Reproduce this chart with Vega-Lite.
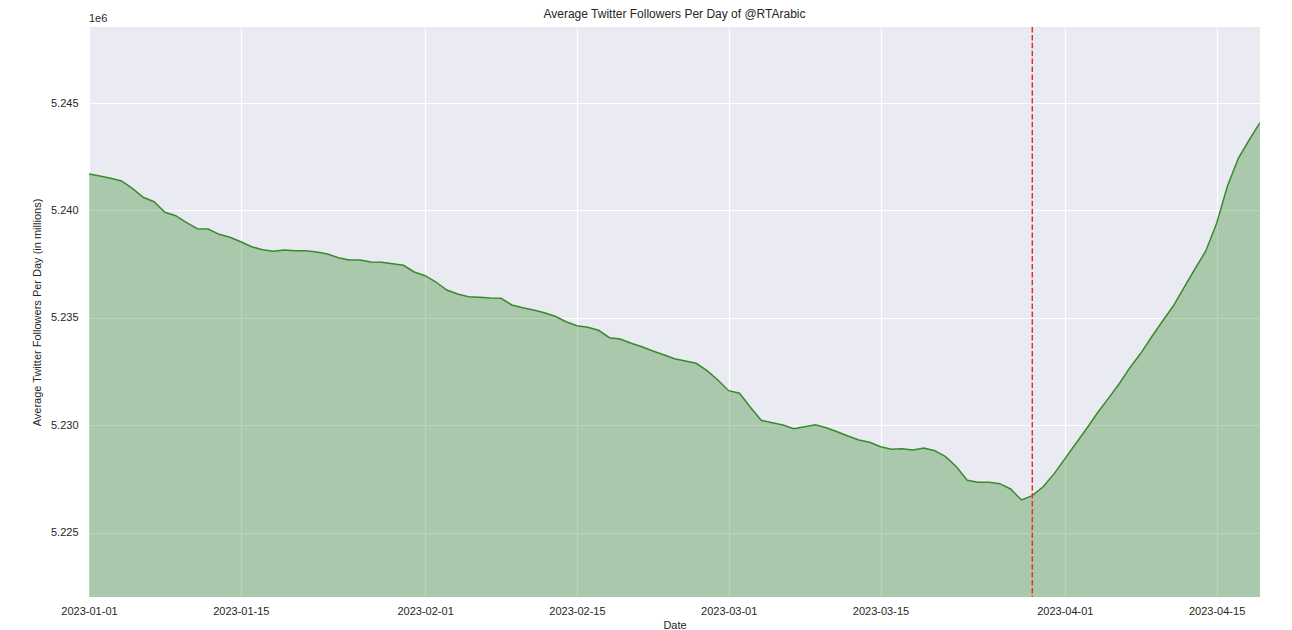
{
  "$schema": "https://vega.github.io/schema/vega-lite/v6.json",
  "width": 1171,
  "height": 570,
  "autosize": "none",
  "padding": {"left": 89, "top": 27, "right": 32, "bottom": 33},
  "background": "white",
  "config": {
    "font": "Liberation Sans",
    "view": {"fill": "#EAEAF2", "stroke": null},
    "axis": {
      "grid": true, "gridColor": "white", "gridWidth": 1.2,
      "domain": false, "ticks": false, "tickSize": 0,
      "labelFont": "Liberation Sans", "labelFontSize": 11, "labelColor": "#262626",
      "titleFont": "Liberation Sans", "titleFontSize": 11, "titleColor": "#262626", "titleFontWeight": "normal"
    }
  },
  "title": {
    "text": "Average Twitter Followers Per Day of @RTArabic",
    "fontSize": 12, "fontWeight": "normal", "color": "#262626",
    "font": "Liberation Sans", "anchor": "middle", "offset": 7, "frame": "group", "dy": 15
  },
  "datasets": {
    "followers": [
      {"date": "2023-01-01", "followers": 5241698},
      {"date": "2023-01-02", "followers": 5241605},
      {"date": "2023-01-03", "followers": 5241497},
      {"date": "2023-01-04", "followers": 5241372},
      {"date": "2023-01-05", "followers": 5241032},
      {"date": "2023-01-06", "followers": 5240614},
      {"date": "2023-01-07", "followers": 5240410},
      {"date": "2023-01-08", "followers": 5239916},
      {"date": "2023-01-09", "followers": 5239759},
      {"date": "2023-01-10", "followers": 5239433},
      {"date": "2023-01-11", "followers": 5239154},
      {"date": "2023-01-12", "followers": 5239140},
      {"date": "2023-01-13", "followers": 5238893},
      {"date": "2023-01-14", "followers": 5238753},
      {"date": "2023-01-15", "followers": 5238549},
      {"date": "2023-01-16", "followers": 5238316},
      {"date": "2023-01-17", "followers": 5238177},
      {"date": "2023-01-18", "followers": 5238102},
      {"date": "2023-01-19", "followers": 5238163},
      {"date": "2023-01-20", "followers": 5238130},
      {"date": "2023-01-21", "followers": 5238130},
      {"date": "2023-01-22", "followers": 5238070},
      {"date": "2023-01-23", "followers": 5237977},
      {"date": "2023-01-24", "followers": 5237805},
      {"date": "2023-01-25", "followers": 5237698},
      {"date": "2023-01-26", "followers": 5237698},
      {"date": "2023-01-27", "followers": 5237605},
      {"date": "2023-01-28", "followers": 5237590},
      {"date": "2023-01-29", "followers": 5237526},
      {"date": "2023-01-30", "followers": 5237451},
      {"date": "2023-01-31", "followers": 5237140},
      {"date": "2023-02-01", "followers": 5236967},
      {"date": "2023-02-02", "followers": 5236674},
      {"date": "2023-02-03", "followers": 5236302},
      {"date": "2023-02-04", "followers": 5236116},
      {"date": "2023-02-05", "followers": 5235991},
      {"date": "2023-02-06", "followers": 5235963},
      {"date": "2023-02-07", "followers": 5235930},
      {"date": "2023-02-08", "followers": 5235916},
      {"date": "2023-02-09", "followers": 5235605},
      {"date": "2023-02-10", "followers": 5235479},
      {"date": "2023-02-11", "followers": 5235372},
      {"date": "2023-02-12", "followers": 5235247},
      {"date": "2023-02-13", "followers": 5235079},
      {"date": "2023-02-14", "followers": 5234828},
      {"date": "2023-02-15", "followers": 5234642},
      {"date": "2023-02-16", "followers": 5234567},
      {"date": "2023-02-17", "followers": 5234428},
      {"date": "2023-02-18", "followers": 5234084},
      {"date": "2023-02-19", "followers": 5234023},
      {"date": "2023-02-20", "followers": 5233823},
      {"date": "2023-02-21", "followers": 5233665},
      {"date": "2023-02-22", "followers": 5233465},
      {"date": "2023-02-23", "followers": 5233293},
      {"date": "2023-02-24", "followers": 5233107},
      {"date": "2023-02-25", "followers": 5233000},
      {"date": "2023-02-26", "followers": 5232893},
      {"date": "2023-02-27", "followers": 5232549},
      {"date": "2023-02-28", "followers": 5232116},
      {"date": "2023-03-01", "followers": 5231619},
      {"date": "2023-03-02", "followers": 5231498},
      {"date": "2023-03-03", "followers": 5230847},
      {"date": "2023-03-04", "followers": 5230242},
      {"date": "2023-03-05", "followers": 5230130},
      {"date": "2023-03-06", "followers": 5230023},
      {"date": "2023-03-07", "followers": 5229851},
      {"date": "2023-03-08", "followers": 5229944},
      {"date": "2023-03-09", "followers": 5230037},
      {"date": "2023-03-10", "followers": 5229898},
      {"date": "2023-03-11", "followers": 5229712},
      {"date": "2023-03-12", "followers": 5229512},
      {"date": "2023-03-13", "followers": 5229326},
      {"date": "2023-03-14", "followers": 5229219},
      {"date": "2023-03-15", "followers": 5229014},
      {"date": "2023-03-16", "followers": 5228893},
      {"date": "2023-03-17", "followers": 5228921},
      {"date": "2023-03-18", "followers": 5228860},
      {"date": "2023-03-19", "followers": 5228953},
      {"date": "2023-03-20", "followers": 5228828},
      {"date": "2023-03-21", "followers": 5228549},
      {"date": "2023-03-22", "followers": 5228084},
      {"date": "2023-03-23", "followers": 5227451},
      {"date": "2023-03-24", "followers": 5227358},
      {"date": "2023-03-25", "followers": 5227358},
      {"date": "2023-03-26", "followers": 5227293},
      {"date": "2023-03-27", "followers": 5227047},
      {"date": "2023-03-28", "followers": 5226535},
      {"date": "2023-03-29", "followers": 5226735},
      {"date": "2023-03-30", "followers": 5227153},
      {"date": "2023-03-31", "followers": 5227750},
      {"date": "2023-04-01", "followers": 5228450},
      {"date": "2023-04-02", "followers": 5229150},
      {"date": "2023-04-03", "followers": 5229850},
      {"date": "2023-04-04", "followers": 5230580},
      {"date": "2023-04-05", "followers": 5231250},
      {"date": "2023-04-06", "followers": 5231930},
      {"date": "2023-04-07", "followers": 5232688},
      {"date": "2023-04-08", "followers": 5233358},
      {"date": "2023-04-09", "followers": 5234116},
      {"date": "2023-04-10", "followers": 5234847},
      {"date": "2023-04-11", "followers": 5235558},
      {"date": "2023-04-12", "followers": 5236428},
      {"date": "2023-04-13", "followers": 5237279},
      {"date": "2023-04-14", "followers": 5238116},
      {"date": "2023-04-15", "followers": 5239405},
      {"date": "2023-04-16", "followers": 5241140},
      {"date": "2023-04-17", "followers": 5242428},
      {"date": "2023-04-18", "followers": 5243279},
      {"date": "2023-04-19", "followers": 5244084}
    ],
    "marker": [{"date": "2023-03-29"}],
    "offsetLabel": [{"date": "2023-01-01", "followers": 5248535, "label": "1e6"}]
  },
  "layer": [
    {
      "data": {"name": "followers"},
      "mark": {"type": "area", "color": "#187c05", "fillOpacity": 0.3, "clip": true},
      "encoding": {
        "x": {
          "field": "date", "type": "temporal", "title": "Date",
          "scale": {"type": "utc", "domain": [{"year": 2023, "month": 1, "date": 1, "utc": true}, {"year": 2023, "month": 4, "date": 19, "utc": true}]},
          "axis": {
            "values": [
              {"year": 2023, "month": 1, "date": 1, "utc": true},
              {"year": 2023, "month": 1, "date": 15, "utc": true},
              {"year": 2023, "month": 2, "date": 1, "utc": true},
              {"year": 2023, "month": 2, "date": 15, "utc": true},
              {"year": 2023, "month": 3, "date": 1, "utc": true},
              {"year": 2023, "month": 3, "date": 15, "utc": true},
              {"year": 2023, "month": 4, "date": 1, "utc": true},
              {"year": 2023, "month": 4, "date": 15, "utc": true}
            ],
            "labelExpr": "utcFormat(datum.value, '%Y-%m-%d')",
            "labelPadding": 8, "titlePadding": 3, "labelFlush": false, "labelOverlap": false
          }
        },
        "y": {
          "field": "followers", "type": "quantitative",
          "title": "Average Twitter Followers Per Day (in millions)",
          "scale": {"domain": [5222023, 5248535], "zero": false, "nice": false},
          "axis": {
            "values": [5225000, 5230000, 5235000, 5240000, 5245000],
            "labelExpr": "format(datum.value / 1000000, '.3f')",
            "labelPadding": 11, "titlePadding": 8
          }
        }
      }
    },
    {
      "data": {"name": "followers"},
      "mark": {"type": "line", "color": "#3a8a2c", "strokeWidth": 1.5, "clip": true},
      "encoding": {
        "x": {"field": "date", "type": "temporal"},
        "y": {"field": "followers", "type": "quantitative"}
      }
    },
    {
      "data": {"name": "marker"},
      "mark": {"type": "rule", "color": "#e8312f", "strokeWidth": 1.5, "strokeDash": [5.5, 2.4]},
      "encoding": {
        "x": {"field": "date", "type": "temporal"}
      }
    },
    {
      "data": {"name": "offsetLabel"},
      "mark": {"type": "text", "align": "left", "baseline": "bottom", "dy": -3, "fontSize": 11, "color": "#262626", "font": "Liberation Sans"},
      "encoding": {
        "x": {"field": "date", "type": "temporal"},
        "y": {"field": "followers", "type": "quantitative"},
        "text": {"field": "label"}
      }
    }
  ]
}
